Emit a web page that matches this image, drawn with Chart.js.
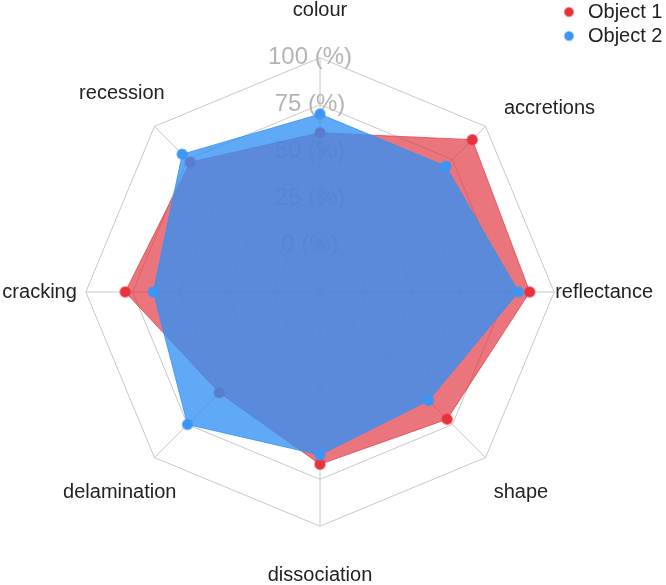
<!DOCTYPE html>
<html><head><meta charset="utf-8">
<script src="https://cdn.jsdelivr.net/npm/chart.js@4.4.1/dist/chart.umd.min.js"></script>
<style>html,body{margin:0;padding:0;background:#fff;}#wrap{width:666px;height:585px;position:relative;}</style>
</head><body><div id="wrap"><canvas id="c" width="666" height="585"></canvas></div>
<script>
const categories = ['colour', 'accretions', 'reflectance', 'shape', 'dissociation', 'delamination', 'cracking', 'recession'];
const seriesNames = ['Object 1', 'Object 2'];
const object1 = [60, 90, 87, 71, 67, 51, 79, 73];
const object2 = [70, 70, 81, 57, 62, 75, 64, 79];
const tickValues = [0, 25, 50, 75, 100];
const tickSuffix = ' (%)';

// label placement (style only)
const labelGap = [47, 26, 1, 50, 49, 49, 9, 46];
const labelAlign = ['center', 'left', 'left', 'center', 'center', 'center', 'right', 'center'];
const labelPad = [-11, -11, -11, -11, -11, -11, -13, -11];

const FONT = "'Liberation Sans', Arial, Helvetica, sans-serif";

const legendMover = {
  id: 'legendMover',
  afterLayout(chart) {
    const lg = chart.legend;
    if (!lg) return;
    const w = lg.width, h = lg.height;
    lg.left = 556; lg.top = -2;
    lg.right = lg.left + w; lg.bottom = lg.top + h;
  }
};

new Chart(document.getElementById('c'), {
  type: 'radar',
  data: {
    labels: categories,
    datasets: [
      {
        label: seriesNames[0], data: object1, order: 1,
        backgroundColor: 'rgba(226, 52, 64, 0.68)',
        borderColor: 'rgba(226, 52, 64, 0.68)', borderWidth: 1,
        pointBackgroundColor: '#e8323f', pointBorderColor: 'rgba(232,50,63,0.5)',
        pointBorderWidth: 2, pointRadius: 5, fill: 'start'
      },
      {
        label: seriesNames[1], data: object2, order: 0,
        backgroundColor: 'rgba(50, 145, 245, 0.78)',
        borderColor: 'rgba(50, 145, 245, 0.78)', borderWidth: 1,
        pointBackgroundColor: '#3d95f5', pointBorderColor: 'rgba(61,149,245,0.5)',
        pointBorderWidth: 2, pointRadius: 5, fill: 'start'
      }
    ]
  },
  options: {
    responsive: false,
    animation: false,
    devicePixelRatio: 1,
    layout: { padding: 0 },
    plugins: {
      legend: {
        position: 'chartArea', align: 'start',
        labels: {
          usePointStyle: true, pointStyle: 'circle', boxWidth: 18, boxHeight: 6,
          padding: 4, color: '#222', font: { family: FONT, size: 20 },
          sort: (a, b) => a.datasetIndex - b.datasetIndex
        }
      },
      tooltip: { enabled: false }
    },
    scales: {
      r: {
        min: -25, max: 100,
        ticks: {
          stepSize: 25, showLabelBackdrop: false, backdropPadding: 0,
          color: '#b4b4b4', font: { family: FONT, size: 24 },
          callback: (v) => tickValues.includes(v) ? v + tickSuffix + '   ' : ''
        },
        grid: { color: '#c8c8c8', lineWidth: 1 },
        angleLines: { color: '#c8c8c8', lineWidth: 1 },
        pointLabels: {
          color: '#222', font: { family: FONT, size: 20 },
          padding: (ctx) => labelPad[ctx.index]
        },
        afterFit(scale) {
          const items = scale._pointLabelItems;
          if (!items) return;
          items.forEach((it, i) => {
            const w = it.right - it.left, h = it.bottom - it.top;
            const p = scale.getPointPosition(i, scale.drawingArea + labelGap[i]);
            const a = labelAlign[i];
            const left = a === 'left' ? p.x : a === 'right' ? p.x - w : p.x - w / 2;
            it.x = p.x; it.y = p.y - h / 2; it.textAlign = a;
            it.left = left; it.right = left + w; it.top = it.y; it.bottom = it.y + h;
          });
        }
      }
    }
  },
  plugins: [legendMover]
});
</script>
</body></html>
